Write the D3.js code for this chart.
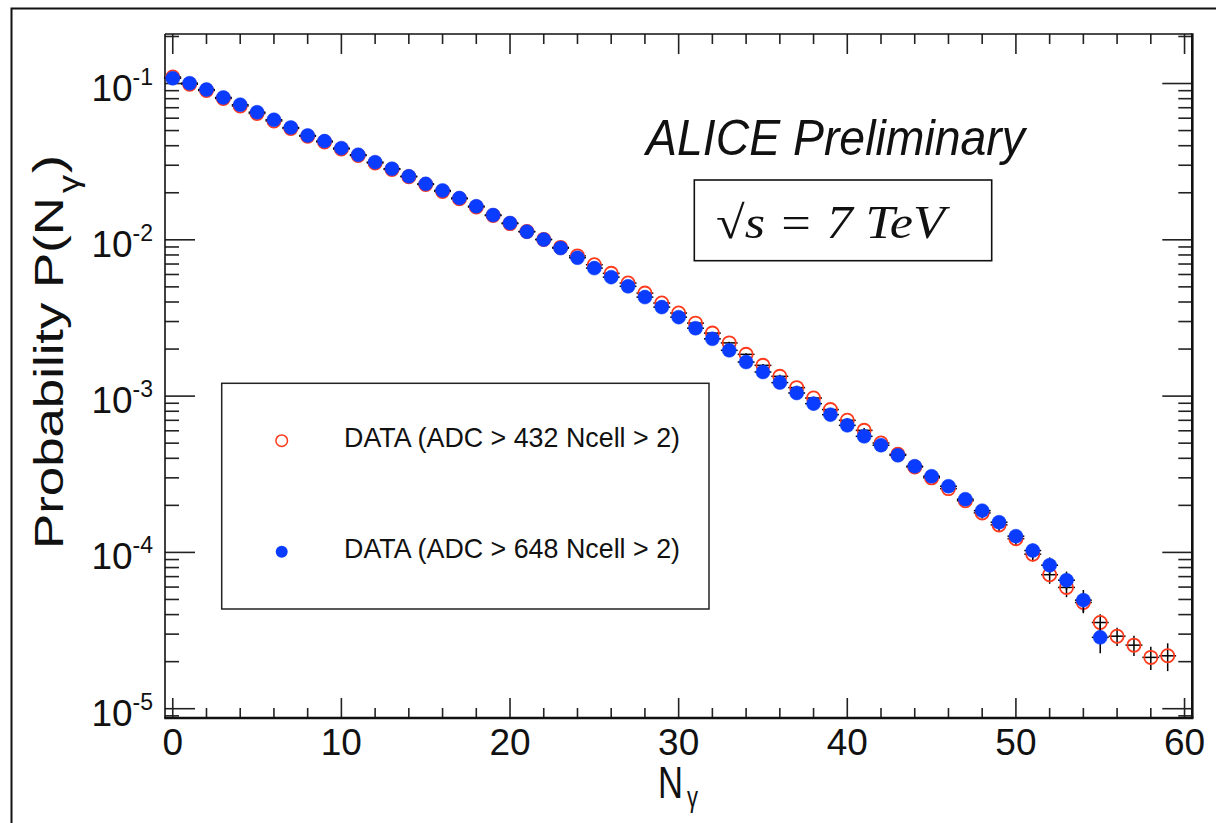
<!DOCTYPE html>
<html><head><meta charset="utf-8">
<script src="https://cdn.jsdelivr.net/npm/d3@7"></script>
<style>body{margin:0;background:#fff}svg{display:block}</style></head>
<body>
<svg id="c" width="1216" height="823"></svg>
<script>
// ---------- data ----------
const nRed = [0,1,2,3,4,5,6,7,8,9,10,11,12,13,14,15,16,17,18,19,20,21,22,23,24,25,26,27,28,29,
  30,31,32,33,34,35,36,37,38,39,40,41,42,43,44,45,46,47,48,49,50,51,52,53,54,55,56,57,58,59];
const probRed = [0.1101,0.0990,0.0902,0.0802,0.0718,0.0643,0.0576,0.0516,0.0460,0.0423,
  0.0381,0.0346,0.0310,0.0282,0.0253,0.0226,0.0204,0.0183,0.0162,0.0143,
  0.0127,0.0113,0.01006,0.00894,0.00789,0.00693,0.00610,0.00529,0.00456,0.00394,
  0.00340,0.00293,0.00253,0.00219,0.00185,0.001573,0.001338,0.001133,0.000972,0.000820,
  0.000700,0.000604,0.000501,0.000424,0.000352,0.000300,0.000256,0.000214,0.000179,0.000150,
  0.0001224,0.0000974,0.0000720,0.0000597,0.0000478,0.0000356,0.0000291,0.0000255,0.0000213,0.0000218];
const errRed = [0.0004,0.0004,0.0004,0.0003,0.0003,0.0003,0.0003,0.0003,0.0002,0.0002,
  0.0002,0.0002,0.0002,0.0002,0.0002,0.0002,0.0002,0.0001,0.0001,0.0001,
  0.0001,0.0001,0.0001,0.0001,0.0001,0.0001,0.00009,0.00008,0.00007,0.00006,
  0.00005,0.00005,0.00004,0.00004,0.00003,0.00003,0.00003,0.00003,0.00002,0.00002,
  0.00002,0.00002,0.00002,0.00002,0.00002,0.000018,0.000016,0.000015,0.000014,0.000013,
  0.000011,0.000010,0.000009,0.000008,0.000007,0.0000046,0.0000039,0.0000038,0.0000036,0.0000044];

const nBlue = [0,1,2,3,4,5,6,7,8,9,10,11,12,13,14,15,16,17,18,19,20,21,22,23,24,25,26,27,28,29,
  30,31,32,33,34,35,36,37,38,39,40,41,42,43,44,45,46,47,48,49,50,51,52,53,54,55];
const probBlue = [0.1080,0.1005,0.0915,0.0814,0.0732,0.0655,0.0586,0.0523,0.0465,0.0428,
  0.0386,0.0350,0.0314,0.0285,0.0255,0.0228,0.0207,0.0185,0.0164,0.0144,
  0.0128,0.01127,0.01003,0.00885,0.00768,0.00659,0.00577,0.00504,0.00430,0.00371,
  0.00320,0.00272,0.002325,0.001963,0.001652,0.001426,0.001220,0.001047,0.000895,0.000761,
  0.000650,0.000553,0.000485,0.000418,0.000356,0.000307,0.000265,0.000219,0.000185,0.000156,
  0.000127,0.0001028,0.0000828,0.0000664,0.0000495,0.0000286];
const errBlue = [0.0004,0.0004,0.0004,0.0003,0.0003,0.0003,0.0003,0.0003,0.0002,0.0002,
  0.0002,0.0002,0.0002,0.0002,0.0002,0.0002,0.0002,0.0001,0.0001,0.0001,
  0.0001,0.0001,0.0001,0.0001,0.0001,0.0001,0.00009,0.00008,0.00007,0.00006,
  0.00005,0.00005,0.00004,0.00004,0.00003,0.00003,0.00003,0.00003,0.00002,0.00002,
  0.00002,0.00002,0.00002,0.00002,0.00002,0.000018,0.000016,0.000015,0.000014,0.000013,
  0.000012,0.000011,0.000010,0.000009,0.000008,0.000006];

const xMajorTicks = [0,10,20,30,40,50,60];
const xTickLabels = ["0","10","20","30","40","50","60"];
const yMajorTicks = [1e-1,1e-2,1e-3,1e-4,1e-5];
const yTickExponents = ["-1","-2","-3","-4","-5"];
const legendLabels = ["DATA (ADC > 432 Ncell > 2)","DATA (ADC > 648 Ncell > 2)"];

// ---------- setup ----------
const SANS = "'Liberation Sans', Arial, Helvetica, sans-serif";
const RED = "#ff3a1c", BLUE = "#0a3cff";
const svg = d3.select("#c");
const L = 165, R = 1192.3, T = 34, B = 718;

const x = d3.scaleLinear().domain([-0.46, 60.46]).range([L, R]);
const y = d3.scaleLog().domain([8.72e-6, 0.2074]).range([B, T]);

// outer frame (top + left)
svg.append("path").attr("d","M11.5,823 V8.5 H1216").attr("fill","none")
  .attr("stroke","#111").attr("stroke-width",2);

// ---------- ticks ----------
const tk = svg.append("g").attr("stroke","#222").attr("stroke-width",1.6);
const xMinor = d3.range(0, 61, 2).filter(v => v % 10 !== 0);
xMajorTicks.forEach(v => {
  tk.append("line").attr("x1",x(v)).attr("x2",x(v)).attr("y1",B).attr("y2",B-20);
  tk.append("line").attr("x1",x(v)).attr("x2",x(v)).attr("y1",T).attr("y2",T+20);
});
xMinor.forEach(v => {
  tk.append("line").attr("x1",x(v)).attr("x2",x(v)).attr("y1",B).attr("y2",B-10);
  tk.append("line").attr("x1",x(v)).attr("x2",x(v)).attr("y1",T).attr("y2",T+10);
});
const [ylo, yhi] = y.domain();
const yMinor = [];
for (let e = -6; e <= 0; e++) for (let k = 2; k <= 9; k++) {
  const v = k * Math.pow(10, e);
  if (v >= ylo && v <= yhi) yMinor.push(v);
}
yMajorTicks.forEach(v => {
  tk.append("line").attr("x1",L).attr("x2",L+30).attr("y1",y(v)).attr("y2",y(v));
  tk.append("line").attr("x1",R).attr("x2",R-30).attr("y1",y(v)).attr("y2",y(v));
});
yMinor.forEach(v => {
  tk.append("line").attr("x1",L).attr("x2",L+14).attr("y1",y(v)).attr("y2",y(v));
  tk.append("line").attr("x1",R).attr("x2",R-14).attr("y1",y(v)).attr("y2",y(v));
});

// plot frame
svg.append("line").attr("x1",L).attr("x2",L).attr("y1",T).attr("y2",B).attr("stroke","#111").attr("stroke-width",1.6);
svg.append("line").attr("x1",L).attr("x2",R).attr("y1",T).attr("y2",T).attr("stroke","#111").attr("stroke-width",1.6);
svg.append("line").attr("x1",L-0.8).attr("x2",R+1.2).attr("y1",B).attr("y2",B).attr("stroke","#111").attr("stroke-width",2.6);
svg.append("line").attr("x1",R).attr("x2",R).attr("y1",T-0.8).attr("y2",B).attr("stroke","#111").attr("stroke-width",2.6);

// tick labels
xMajorTicks.forEach((v,i) => {
  svg.append("text").attr("x",x(v)).attr("y",755).attr("text-anchor","middle")
    .attr("font-family",SANS).attr("font-size",37).attr("fill","#111").text(xTickLabels[i]);
});
yMajorTicks.forEach((v,i) => {
  const t = svg.append("text").attr("x",153).attr("y",y(v)+17).attr("text-anchor","end")
    .attr("font-family",SANS).attr("fill","#111");
  t.append("tspan").attr("font-size",37).text("10");
  t.append("tspan").attr("font-size",23).attr("dy",-16).text(yTickExponents[i]);
});

// axis titles
svg.append("text").attr("transform","translate(63,549) rotate(-90)")
  .attr("font-family",SANS).attr("font-size",40).attr("fill","#111")
  .attr("textLength",352).attr("lengthAdjust","spacingAndGlyphs").text("Probability P(N");
svg.append("text").attr("transform","translate(79,193) rotate(-90)")
  .attr("font-family",SANS).attr("font-size",29).attr("fill","#111")
  .attr("textLength",18).attr("lengthAdjust","spacingAndGlyphs").text("γ");
svg.append("text").attr("transform","translate(63,173) rotate(-90)")
  .attr("font-family",SANS).attr("font-size",42).attr("fill","#111")
  .attr("textLength",18).attr("lengthAdjust","spacingAndGlyphs").text(")");

svg.append("text").attr("x",658).attr("y",798).attr("font-family",SANS).attr("font-size",44)
  .attr("fill","#111").attr("textLength",25).attr("lengthAdjust","spacingAndGlyphs").text("N");
svg.append("text").attr("x",687).attr("y",807).attr("font-family",SANS).attr("font-size",29)
  .attr("fill","#111").attr("textLength",11).attr("lengthAdjust","spacingAndGlyphs").text("γ");

// ---------- data drawing ----------
function drawSeries(ns, vals, errs, filled, color) {
  const g = svg.append("g");
  const eg = g.append("g").attr("stroke","#000").attr("stroke-width",1.5);
  ns.forEach((n,i) => {
    const v = vals[i], e = errs[i];
    eg.append("line").attr("x1",x(n-0.5)).attr("x2",x(n+0.5)).attr("y1",y(v)).attr("y2",y(v));
    eg.append("line").attr("x1",x(n)).attr("x2",x(n)).attr("y1",y(v+e)).attr("y2",y(Math.max(v-e, ylo)));
  });
  g.append("g").selectAll("circle").data(ns).join("circle")
    .attr("cx", n => x(n)).attr("cy", (n,i) => y(vals[i]))
    .attr("r", filled ? 7 : 6.6)
    .attr("fill", filled ? color : "none")
    .attr("stroke", color).attr("stroke-width", filled ? 0.5 : 1.8);
}
drawSeries(nRed, probRed, errRed, false, RED);
drawSeries(nBlue, probBlue, errBlue, true, BLUE);

// ---------- annotations ----------
svg.append("text").attr("x",646).attr("y",155).attr("font-family",SANS).attr("font-style","italic")
  .attr("font-size",50).attr("fill","#111").attr("textLength",379).attr("lengthAdjust","spacingAndGlyphs")
  .text("ALICE Preliminary");
svg.append("rect").attr("x",694.3).attr("y",180).attr("width",297.4).attr("height",80.7)
  .attr("fill","#fff").attr("stroke","#111").attr("stroke-width",1.6);
svg.append("text").attr("x",716).attr("y",238).attr("font-family","'Liberation Serif','DejaVu Serif',serif")
  .attr("font-style","italic").attr("font-size",46).attr("fill","#111")
  .attr("textLength",229).attr("lengthAdjust","spacingAndGlyphs").text("√s = 7 TeV");

// legend
svg.append("rect").attr("x",221.7).attr("y",383.3).attr("width",487.3).attr("height",225.7)
  .attr("fill","#fff").attr("stroke","#222").attr("stroke-width",1.5);
svg.append("circle").attr("cx",281.7).attr("cy",440.7).attr("r",5.8).attr("fill","none")
  .attr("stroke",RED).attr("stroke-width",1.5);
svg.append("circle").attr("cx",281.7).attr("cy",551.7).attr("r",6).attr("fill",BLUE);
[447.3, 558.3].forEach((yy,i) => {
  svg.append("text").attr("x",344).attr("y",yy).attr("font-family",SANS).attr("font-size",28)
    .attr("fill","#111").attr("textLength",336).attr("lengthAdjust","spacingAndGlyphs").text(legendLabels[i]);
});
</script>
</body></html>
